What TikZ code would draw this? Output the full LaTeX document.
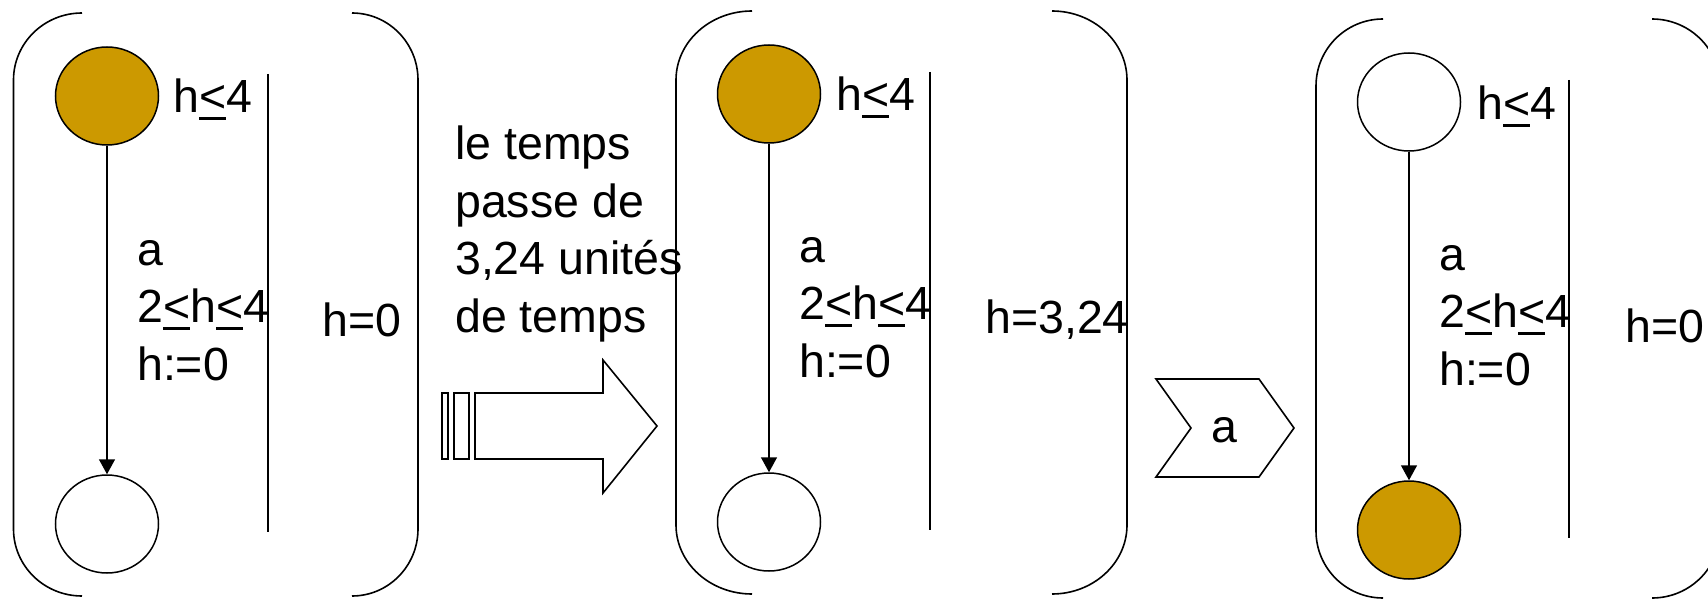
\documentclass[tikz,border=0pt]{standalone}
\usepackage{fontspec}
\setmainfont{Liberation Sans}
\usetikzlibrary{shapes.geometric,arrows.meta}
\definecolor{gold}{HTML}{CC9900}
% underlined "<" used as a less-or-equal sign
\newcommand\ule{\leavevmode\setbox0\hbox{<}\rlap{\rule[-7pt]{\wd0}{3pt}}\box0\relax}
\tikzset{
  big/.style={font=\fontsize{46.5}{57.5}\selectfont},
  % multi-line labels are placed by the baseline of their last line
  lbl/.style={big, inner sep=0pt, anchor=base west, align=left},
  state/.style={ellipse, draw, line width=1.5pt, minimum width=103pt, minimum height=98pt, inner sep=0pt},
  active/.style={state, fill=gold},
  idle/.style={state, fill=white},
  edge/.style={line width=1.5pt, -{Triangle[width=16pt,length=15pt]}},
  sep/.style={line width=2.2pt},
  brace/.style={line width=1.6pt},
  outline/.style={line width=1.6pt, fill=white, line join=miter}
}
\begin{document}
\begin{tikzpicture}[x=1pt,y=-1pt]
\useasboundingbox (0,0) rectangle (1708,599);

% ---------- first configuration ----------
\draw[brace] (82,13) arc[start angle=270,end angle=180,x radius=68.5,y radius=67] -- (13.5,529) arc[start angle=180,end angle=90,x radius=68.5,y radius=67];
\draw[brace] (352,13) arc[start angle=270,end angle=360,x radius=66,y radius=67] -- (418,529) arc[start angle=0,end angle=90,x radius=66,y radius=67];
\node[active] (s1) at (107,96) {};
\node[idle]   (d1) at (107,524) {};
\draw[edge] (s1) -- (d1);
\coordinate (v1a) at (268,74); \coordinate (v1b) at (268,532);
\draw[sep] (v1a) -- (v1b);
\node[lbl] (inv1) at (173,113) {h\ule4};
\node[lbl] (tr1) at (137,380) {a\\2\ule h\ule4\\h:=0};
\node[lbl] (val1) at (322,336) {h=0};

% ---------- delay step ----------
\node[lbl] (delay) at (455,332) {le temps\\passe de\\3,24 unités\\de temps};
\draw[outline] (442,393) rectangle (448,459);
\draw[outline] (454,393) rectangle (469,459);
\draw[outline] (475,393) -- (603,393) -- (603,360) -- (657,426) -- (603,493) -- (603,459) -- (475,459) -- cycle;

% ---------- second configuration ----------
\draw[brace] (752,11) arc[start angle=270,end angle=180,x radius=76,y radius=69] -- (676,525) arc[start angle=180,end angle=90,x radius=76,y radius=69];
\draw[brace] (1052,11) arc[start angle=270,end angle=360,x radius=75,y radius=69] -- (1127,525) arc[start angle=0,end angle=90,x radius=75,y radius=69];
\node[active] (s2) at (769,94) {};
\node[idle]   (d2) at (769,522) {};
\draw[edge] (s2) -- (d2);
\coordinate (v2a) at (930,72); \coordinate (v2b) at (930,530);
\draw[sep] (v2a) -- (v2b);
\node[lbl] (inv2) at (836,111) {h\ule4};
\node[lbl] (tr2) at (799,377) {a\\2\ule h\ule4\\h:=0};
\node[lbl] (val2) at (985,333) {h=3,24};

% ---------- action step ----------
\draw[outline] (1156,379) -- (1259,379) -- (1294,428) -- (1259,477) -- (1156,477) -- (1191,428) -- cycle;
\node[big, inner sep=0pt] (act) at (1224,430) {a};

% ---------- third configuration ----------
\draw[brace] (1383,19) arc[start angle=270,end angle=180,x radius=67,y radius=67] -- (1316,531) arc[start angle=180,end angle=90,x radius=67,y radius=67];
\draw[brace] (1652,19) arc[start angle=270,end angle=360,x radius=68,y radius=67] -- (1720,531) arc[start angle=0,end angle=90,x radius=68,y radius=67];
\node[idle]   (s3) at (1409,102) {};
\node[active] (d3) at (1409,530) {};
\draw[edge] (s3) -- (d3);
\coordinate (v3a) at (1569,80); \coordinate (v3b) at (1569,538);
\draw[sep] (v3a) -- (v3b);
\node[lbl] (inv3) at (1477,120) {h\ule4};
\node[lbl] (tr3) at (1439,385) {a\\2\ule h\ule4\\h:=0};
\node[lbl] (val3) at (1625,342) {h=0};
\end{tikzpicture}
\end{document}
